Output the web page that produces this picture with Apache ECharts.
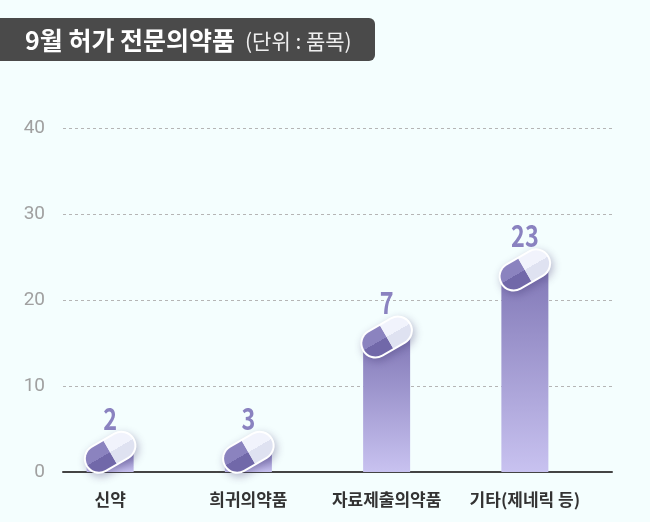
<!DOCTYPE html>
<html>
<head>
<meta charset="utf-8">
<script src="https://cdn.jsdelivr.net/npm/echarts@6/dist/echarts.min.js"></script>
<style>
  html, body { margin: 0; padding: 0; background: #f4fefe; }
  #chart { width: 650px; height: 522px; }
</style>
</head>
<body>
<div id="chart"></div>
<script>
// 카테고리 / 값
var categories = ['신약', '희귀의약품', '자료제출의약품', '기타(제네릭 등)'];
var counts = [2, 3, 7, 23];            // 표시된 품목 수
var barHeights = [2.3, 2.3, 15.7, 23.5]; // 그림에서 막대가 그려진 높이 (축 기준)
var yTicks = [0, 10, 20, 30, 40];

var chart = echarts.init(document.getElementById('chart'));

var pillData = [];
for (var i = 0; i < categories.length; i++) {
  pillData.push([i, barHeights[i], counts[i]]);
}

// 알약 모양 + 숫자
function renderPill(params, api) {
  var p = api.coord([api.value(0), api.value(1)]);
  var half = 26, r = 13;
  return {
    type: 'group',
    children: [
      {
        type: 'group',
        x: p[0], y: p[1],
        rotation: Math.PI / 6,
        children: [
          { type: 'rect', shape: { x: -half - 2, y: -r - 2, width: half * 2 + 4, height: r * 2 + 4, r: r + 2 },
            style: { fill: '#ffffff', shadowBlur: 8, shadowColor: 'rgba(60,50,110,0.35)', shadowOffsetX: 2, shadowOffsetY: 3 } },
          { type: 'rect', shape: { x: -half, y: -r, width: half, height: r * 2, r: [r, 0, 0, r] },
            style: { fill: new echarts.graphic.LinearGradient(0, 0, 0, 1, [
              { offset: 0, color: '#8b83bf' }, { offset: 0.5, color: '#8b83bf' },
              { offset: 0.5, color: '#7168a9' }, { offset: 1, color: '#7168a9' }]) } },
          { type: 'rect', shape: { x: 0, y: -r, width: half, height: r * 2, r: [0, r, r, 0] },
            style: { fill: new echarts.graphic.LinearGradient(0, 0, 0, 1, [
              { offset: 0, color: '#f1f3fc' }, { offset: 0.5, color: '#f1f3fc' },
              { offset: 0.5, color: '#dfe2f1' }, { offset: 1, color: '#dfe2f1' }]) } }
        ]
      },
      {
        type: 'text',
        x: p[0], y: p[1] - 34,
        scaleX: 0.78,
        style: {
          text: String(api.value(2)),
          font: 'bold 30px "Noto Sans CJK KR", sans-serif',
          fill: '#8a82c0',
          align: 'center',
          verticalAlign: 'middle'
        }
      }
    ]
  };
}

var option = {
  backgroundColor: '#f4fefe',
  animation: false,
  graphic: [
    { type: 'rect', left: 0, top: 18, shape: { width: 375, height: 43, r: [0, 6, 6, 0] }, style: { fill: '#4a4a4a' } },
    { type: 'text', x: 25, y: 40,
      style: { text: '9월 허가 전문의약품', fill: '#ffffff', verticalAlign: 'middle',
        font: 'bold 25px "Noto Sans CJK KR", sans-serif' } },
    { type: 'text', x: 245, y: 41,
      style: { text: '(단위 : 품목)', fill: '#eeeeee', verticalAlign: 'middle',
        font: '21px "Noto Sans CJK KR", sans-serif' } }
  ],
  grid: [
    { left: 63, right: 38, top: 128, bottom: 50 },
    { left: 41, right: 56, top: 128, bottom: 50 }
  ],
  xAxis: [
    { type: 'category', gridIndex: 0, data: categories,
      axisLine: { lineStyle: { color: '#444', width: 2 } },
      axisTick: { show: false }, axisLabel: { show: false } },
    { type: 'category', gridIndex: 1, data: categories,
      axisLine: { show: false }, axisTick: { show: false },
      axisLabel: { interval: 0, color: '#333', fontSize: 17, fontWeight: 'bold', margin: 19,
        fontFamily: '"Noto Sans CJK KR", sans-serif' } }
  ],
  yAxis: [
    { type: 'value', gridIndex: 0, min: yTicks[0], max: yTicks[yTicks.length - 1], interval: 10,
      axisLine: { show: false }, axisTick: { show: false },
      axisLabel: { color: '#a0a0a0', fontSize: 19, margin: 18, fontFamily: '"Liberation Sans Narrow", "Roboto", sans-serif' },
      splitLine: { lineStyle: { color: '#b5b5b5', type: [3, 3], width: 1 } } },
    { type: 'value', gridIndex: 1, min: yTicks[0], max: yTicks[yTicks.length - 1], interval: 10, show: false,
      splitLine: { show: false } }
  ],
  series: [
    {
      type: 'bar', xAxisIndex: 1, yAxisIndex: 1, data: barHeights, barWidth: 47,
      itemStyle: { color: new echarts.graphic.LinearGradient(0, 0, 0, 1, [
        { offset: 0, color: '#8279b7' }, { offset: 1, color: '#c8c2f0' }]) },
      z: 2
    },
    {
      type: 'custom', xAxisIndex: 1, yAxisIndex: 1, data: pillData,
      renderItem: renderPill, z: 5
    }
  ]
};

chart.setOption(option);
</script>
</body>
</html>
